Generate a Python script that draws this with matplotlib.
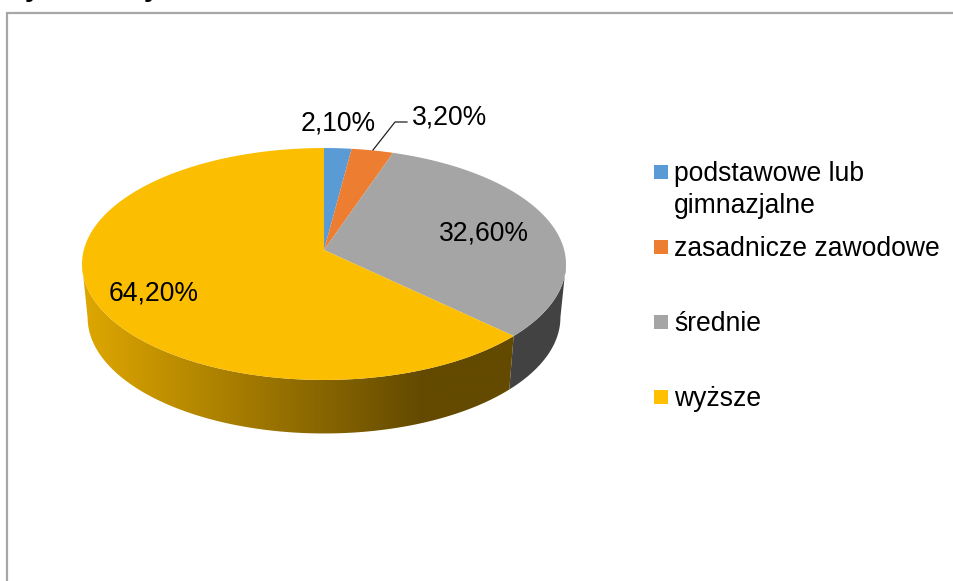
import numpy as np
import matplotlib
matplotlib.use('Agg')
import matplotlib.pyplot as plt
from matplotlib.colors import LinearSegmentedColormap
from matplotlib.patches import Polygon, Rectangle

plt.rcParams['font.family'] = ['Liberation Sans', 'DejaVu Sans']

# Data
categories = ['podstawowe lub\ngimnazjalne', 'zasadnicze zawodowe', 'średnie', 'wyższe']
values = [2.10, 3.20, 32.60, 64.20]
top_colors = ['#5b9bd5', '#ed7d31', '#a5a5a5', '#fbbe00']
legend_colors = ['#5b9bd5', '#ed7d31', '#a5a5a5', '#ffc000']

# where things sit, in pixels of the 954x581 picture
label_pos = [(338, 124), (449.5, 117), (484, 233), (153.5, 293)]
legend_y = [172, 247, 322, 397]

fig = plt.figure(figsize=(9.54, 5.81), dpi=100)
ax = fig.add_axes([0, 0, 1, 1])
ax.axis('off')

# the disc is a circle seen in perspective, angle runs clockwise from the top
persp = 0.1207
# angle where the rim is widest, the side wall starts there
widest = np.arccos(-persp)


def rim(t):
    u, v = np.sin(t), np.cos(t)
    d = 1 + persp * v
    return 324 + 240.2 * u / d, (250 - 84.1 * v) / d


def lower_rim(t):
    x, y = rim(t)
    return 324 + (x - 324) * 0.977, y + 53.5


shares = np.array(values) / sum(values)
edges = np.concatenate([[0], np.cumsum(shares)]) * 2 * np.pi


def side_outline(i):
    ts = np.linspace(max(edges[i], widest), min(edges[i + 1], 2 * np.pi - widest), 200)
    xa, ya = rim(ts)
    xb, yb = lower_rim(ts[::-1])
    return np.column_stack([np.r_[xa, xb], np.r_[ya, yb]])


# side wall first: flat dark grey, then the yellow one shaded from left to right
ax.add_patch(Polygon(side_outline(2), closed=True, facecolor='#424242', edgecolor='none', zorder=1))

shade = LinearSegmentedColormap.from_list('side', [(0, '#e0a800'), (0.78, '#634a00'), (1, '#634a00')])
side = Polygon(side_outline(3), closed=True, facecolor='none', edgecolor='none', zorder=2)
ax.add_patch(side)
img = ax.imshow(np.linspace(0, 1, 256).reshape(1, -1), cmap=shade, extent=[78, 520, 440, 250],
                aspect='auto', zorder=2)
img.set_clip_path(side)

for i, col in enumerate(top_colors):
    ts = np.linspace(edges[i], edges[i + 1], 200)
    xs, ys = rim(ts)
    pts = np.column_stack([np.r_[324, xs], np.r_[250, ys]])
    ax.add_patch(Polygon(pts, closed=True, facecolor=col, edgecolor='none', zorder=3))

# data labels
for v, (x, y) in zip(values, label_pos):
    ax.text(x, y, f'{v:.2f}%'.replace('.', ','), fontsize=19.1, color='black',
            ha='center', va='center', zorder=5)

# leader line for the orange slice
ax.plot([373, 395, 407], [150, 122, 122], color='#222222', linewidth=0.9, zorder=4)

# legend
for name, col, y in zip(categories, legend_colors, legend_y):
    ax.add_patch(Rectangle((654, y - 7), 14, 14, facecolor=col, edgecolor='none'))
    ax.text(674, y - 11, name, fontsize=19.1, color='black', ha='left', va='top', linespacing=1.28)

# frame of the chart, cut off by the crop on the right and at the bottom
ax.plot([7.5, 7.5, 954], [581, 12.5, 12.5], color='#a6a6a6', linewidth=1.6, solid_joinstyle='miter')

# only the tails of the title survive at the top edge
for x in [33, 152]:
    ax.text(x, -3.5, 'y', fontsize=20, fontweight='bold', color='black', ha='center', va='baseline',
            clip_on=False)

ax.set_xlim(0, 954)
ax.set_ylim(581, 0)

fig.savefig('out.png', dpi=100)
